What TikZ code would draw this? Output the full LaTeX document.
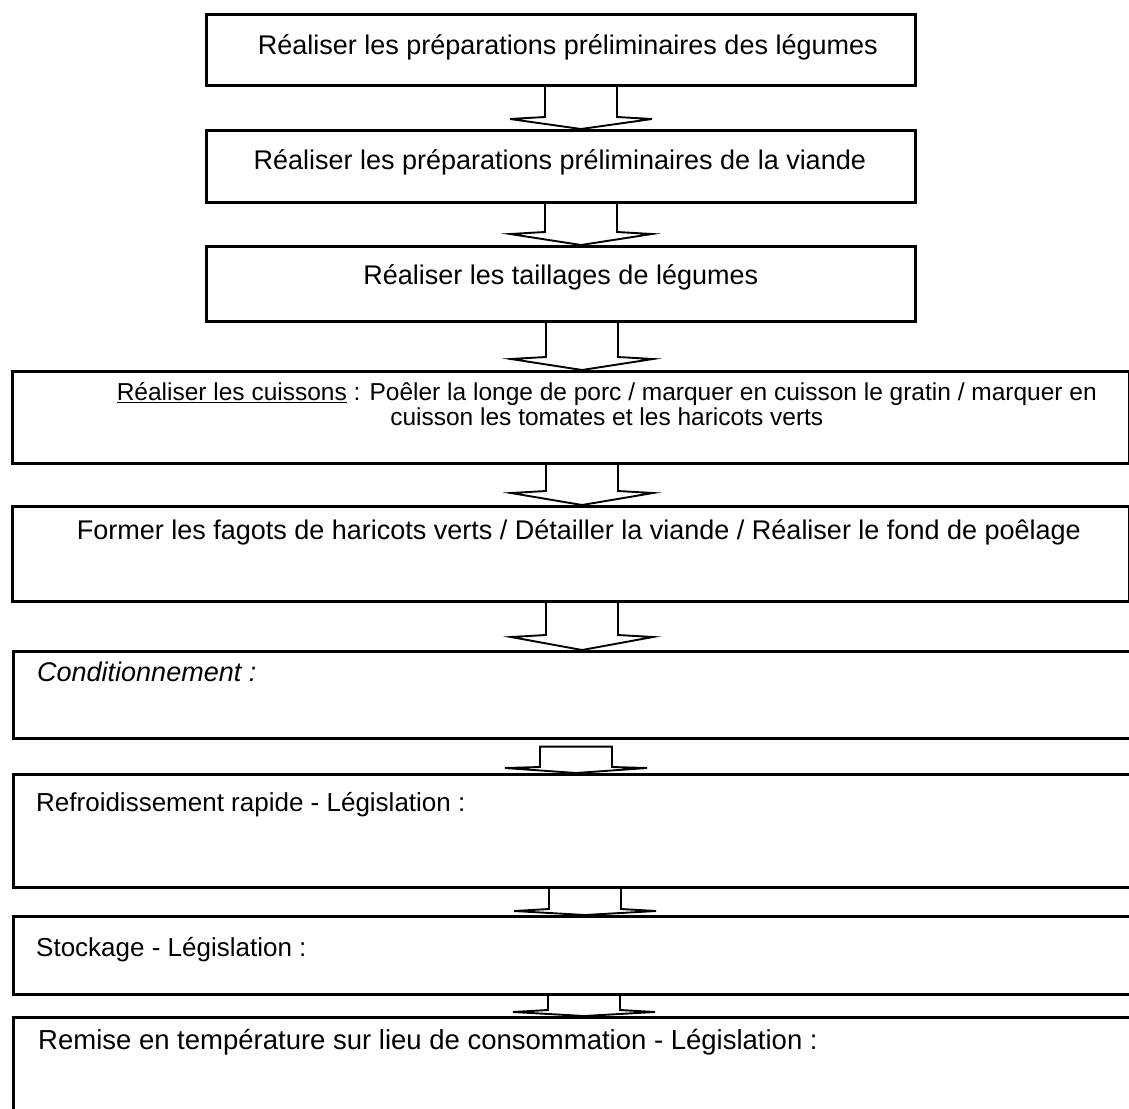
\documentclass[tikz,border=0pt]{standalone}
\usepackage{fontspec}
\setmainfont{Liberation Sans}
\usetikzlibrary{calc}
\usetikzlibrary{positioning}
\tikzstyle{etape}=[draw=black, line width=2.6pt, inner sep=0pt, anchor=north west]
\tikzstyle{texte}=[inner sep=0pt, font=\fontsize{27}{30}\selectfont]
\tikzstyle{fleche}=[draw=black, line width=1.9pt, line join=miter]

\begin{document}
\begin{tikzpicture}[x=1pt, y=-1pt]
  \useasboundingbox (0,0) rectangle (1129,1108);
  \clip (0,0) rectangle (1129,1108);

  % etapes : gauche/haut/largeur/hauteur/nom
  \foreach \x/\y/\w/\h/\name in {205/13/709/71/b1, 205/129/709/72/b2, 205/245/709/75/b3,
      11/370/1117/92/b4, 11/505/1117/95/b5, 12/650/1130/87/b6,
      12/773/1130/113/b7, 12/915/1130/78/b8, 12/1016/1130/96/b9}
    \node[etape, minimum width=\w pt, minimum height=\h pt] (\name) at (\x,\y) {};

  % textes
  \node[texte] (t1) at ($(b1.center)+(7,-2)$) {Réaliser les préparations préliminaires des légumes};
  \node[texte] (t2) at ($(b2.center)+(-1,-4)$) {Réaliser les préparations préliminaires de la viande};
  \node[texte] (t3) at ($(b3.center)+(0,-6)$) {Réaliser les taillages de légumes};
  \node[texte, align=center, anchor=north, font=\fontsize{24.5}{25.5}\selectfont] (t4) at ($(b4.north)+(36,12)$)
    {\underline{Réaliser les cuissons} : Poêler la longe de porc / marquer en cuisson le gratin / marquer en\\
     cuisson les tomates et les haricots verts};
  \node[texte, anchor=base] (t5) at ($(b5.north)+(8,34)$)
    {Former les fagots de haricots verts / Détailler la viande / Réaliser le fond de poêlage};
  \node[texte, anchor=base west, font=\fontsize{27}{30}\selectfont] (t6) at ($(b6.north west)+(25,31)$) {\itshape Conditionnement :};
  \node[texte, anchor=base west, font=\fontsize{26}{30}\selectfont] (t7) at ($(b7.north west)+(24,38)$) {Refroidissement rapide - Législation :};
  \node[texte, anchor=base west, font=\fontsize{26}{30}\selectfont] (t8) at ($(b8.north west)+(24,41)$) {Stockage - Législation :};
  \node[texte, anchor=base west, font=\fontsize{27.5}{30}\selectfont] (t9) at ($(b9.north west)+(26,33)$)
    {Remise en température sur lieu de consommation - Législation :};

  % fleches creuses
  \foreach \source/\dest/\cx/\prof in {b1/b2/581/12, b2/b3/581/13, b3/b4/582/13,
      b4/b5/582/14, b5/b6/582/15, b7/b8/585/6, b8/b9/584/6}
    \draw[fleche] ($(\source.south -| \cx,0)+(-36,0)$) -- ($(\dest.north -| \cx,0)+(-36,-\prof)$)
      -- ($(\dest.north -| \cx,0)+(-71,-\prof+2)$) -- (\dest.north -| \cx,0)
      -- ($(\dest.north -| \cx,0)+(71,-\prof+2)$) -- ($(\dest.north -| \cx,0)+(36,-\prof)$)
      -- ($(\source.south -| \cx,0)+(36,0)$);

  \draw[fleche] ($(b6.south -| 576,0)+(-36,7)$) -- ($(b7.north -| 576,0)+(-36,-6)$)
    -- ($(b7.north -| 576,0)+(-71,-5)$) -- (b7.north -| 576,0)
    -- ($(b7.north -| 576,0)+(71,-5)$) -- ($(b7.north -| 576,0)+(36,-6)$)
    -- ($(b6.south -| 576,0)+(36,7)$) -- cycle;
\end{tikzpicture}
\end{document}
